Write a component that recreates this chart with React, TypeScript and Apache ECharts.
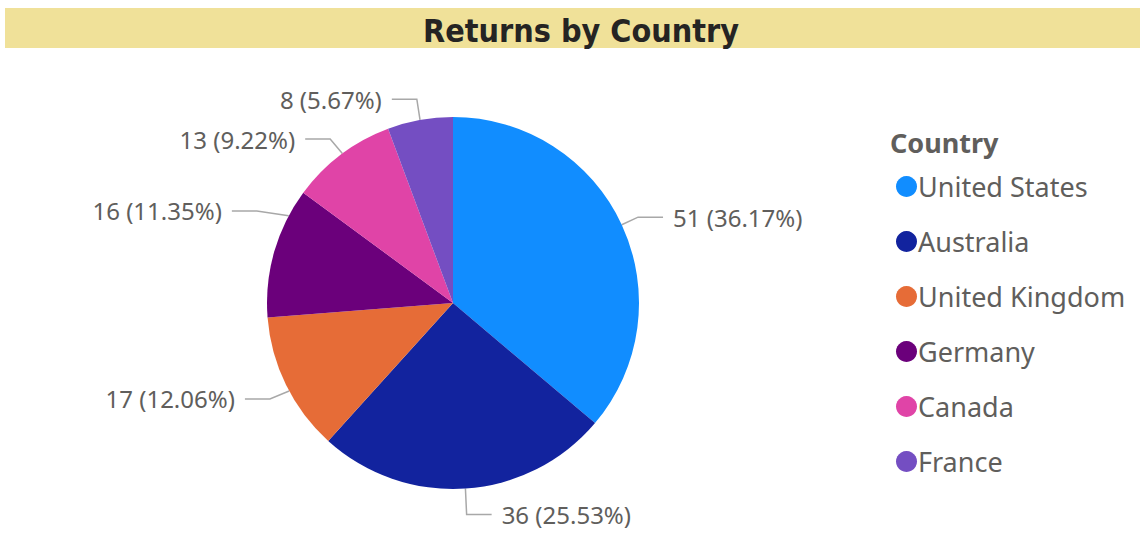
import React, { useEffect, useRef } from "react";
import * as echarts from "echarts";

const countries = ["United States", "Australia", "United Kingdom", "Germany", "Canada", "France"];
const returnsCount = [51, 36, 17, 16, 13, 8];
const colors = ["#118DFF", "#12239E", "#E66C37", "#6B007B", "#E044A7", "#744EC2"];
// vertical nudges of the data labels (Power BI spreads them apart)
const labelShiftY = [0, 8, 6, -36, -1, -3];

const CX = 453;
const CY = 303;
const R = 186;

export default function App() {
  const ref = useRef<HTMLDivElement>(null);
  useEffect(() => {
    if (!ref.current) return;
    const chart = echarts.init(ref.current, null, { renderer: "svg" });
    const font = "'Noto Sans', 'Open Sans', sans-serif";
    chart.setOption({
      animation: false,
      color: colors,
      graphic: [
        { type: "rect", shape: { x: 5, y: 8, width: 1135, height: 40 }, style: { fill: "#F0E199" }, silent: true },
        {
          type: "text",
          x: 581,
          y: 31,
          style: {
            text: "Returns by Country",
            fontFamily: "'DejaVu Sans Condensed', 'DejaVu Sans', sans-serif",
            fontSize: 32,
            fontWeight: "bold",
            fill: "#252423",
            align: "center",
            verticalAlign: "middle",
          },
        },
        {
          type: "text",
          x: 890,
          y: 142,
          style: {
            text: "Country",
            fontFamily: font,
            fontSize: 27,
            fontWeight: "bold",
            fill: "#605E5C",
            verticalAlign: "middle",
          },
        },
      ],
      legend: {
        orient: "vertical",
        left: 891,
        top: 168,
        icon: "circle",
        itemWidth: 21,
        itemHeight: 21,
        itemGap: 28,
        textStyle: { fontFamily: font, fontSize: 27, color: "#605E5C", padding: [0, 0, 0, -4] },
        data: countries,
      },
      series: [
        {
          type: "pie",
          center: [CX, CY],
          radius: R,
          startAngle: 90,
          clockwise: true,
          data: countries.map((n, i) => ({ name: n, value: returnsCount[i] })),
          label: {
            formatter: "{c} ({d}%)",
            fontFamily: font,
            fontSize: 24,
            color: "#605E5C",
            distanceToLabelLine: 10,
          },
          labelLine: { length: 18, length2: 25, lineStyle: { color: "#A8A8A8", width: 1.5 } },
          labelLayout: (p: any) => {
            const dy = labelShiftY[p.dataIndex];
            const pts = p.labelLinePoints;
            if (!pts) return { dy };
            const p0 = pts[0];
            let n0 = [p0[0], p0[1]];
            const ny = p0[1] + dy;
            if (Math.abs(ny - CY) < R * 0.95) {
              const side = p0[0] >= CX ? 1 : -1;
              n0 = [CX + side * Math.sqrt(R * R - (ny - CY) * (ny - CY)), ny];
            }
            return {
              dy,
              labelLinePoints: [n0, [pts[1][0], pts[1][1] + dy], [pts[2][0], pts[2][1] + dy]],
            };
          },
          itemStyle: { borderWidth: 0 },
        },
      ],
    });
    return () => chart.dispose();
  }, []);
  return <div ref={ref} style={{ width: 1143, height: 556, position: "absolute", left: 0, top: 0 }} />;
}
